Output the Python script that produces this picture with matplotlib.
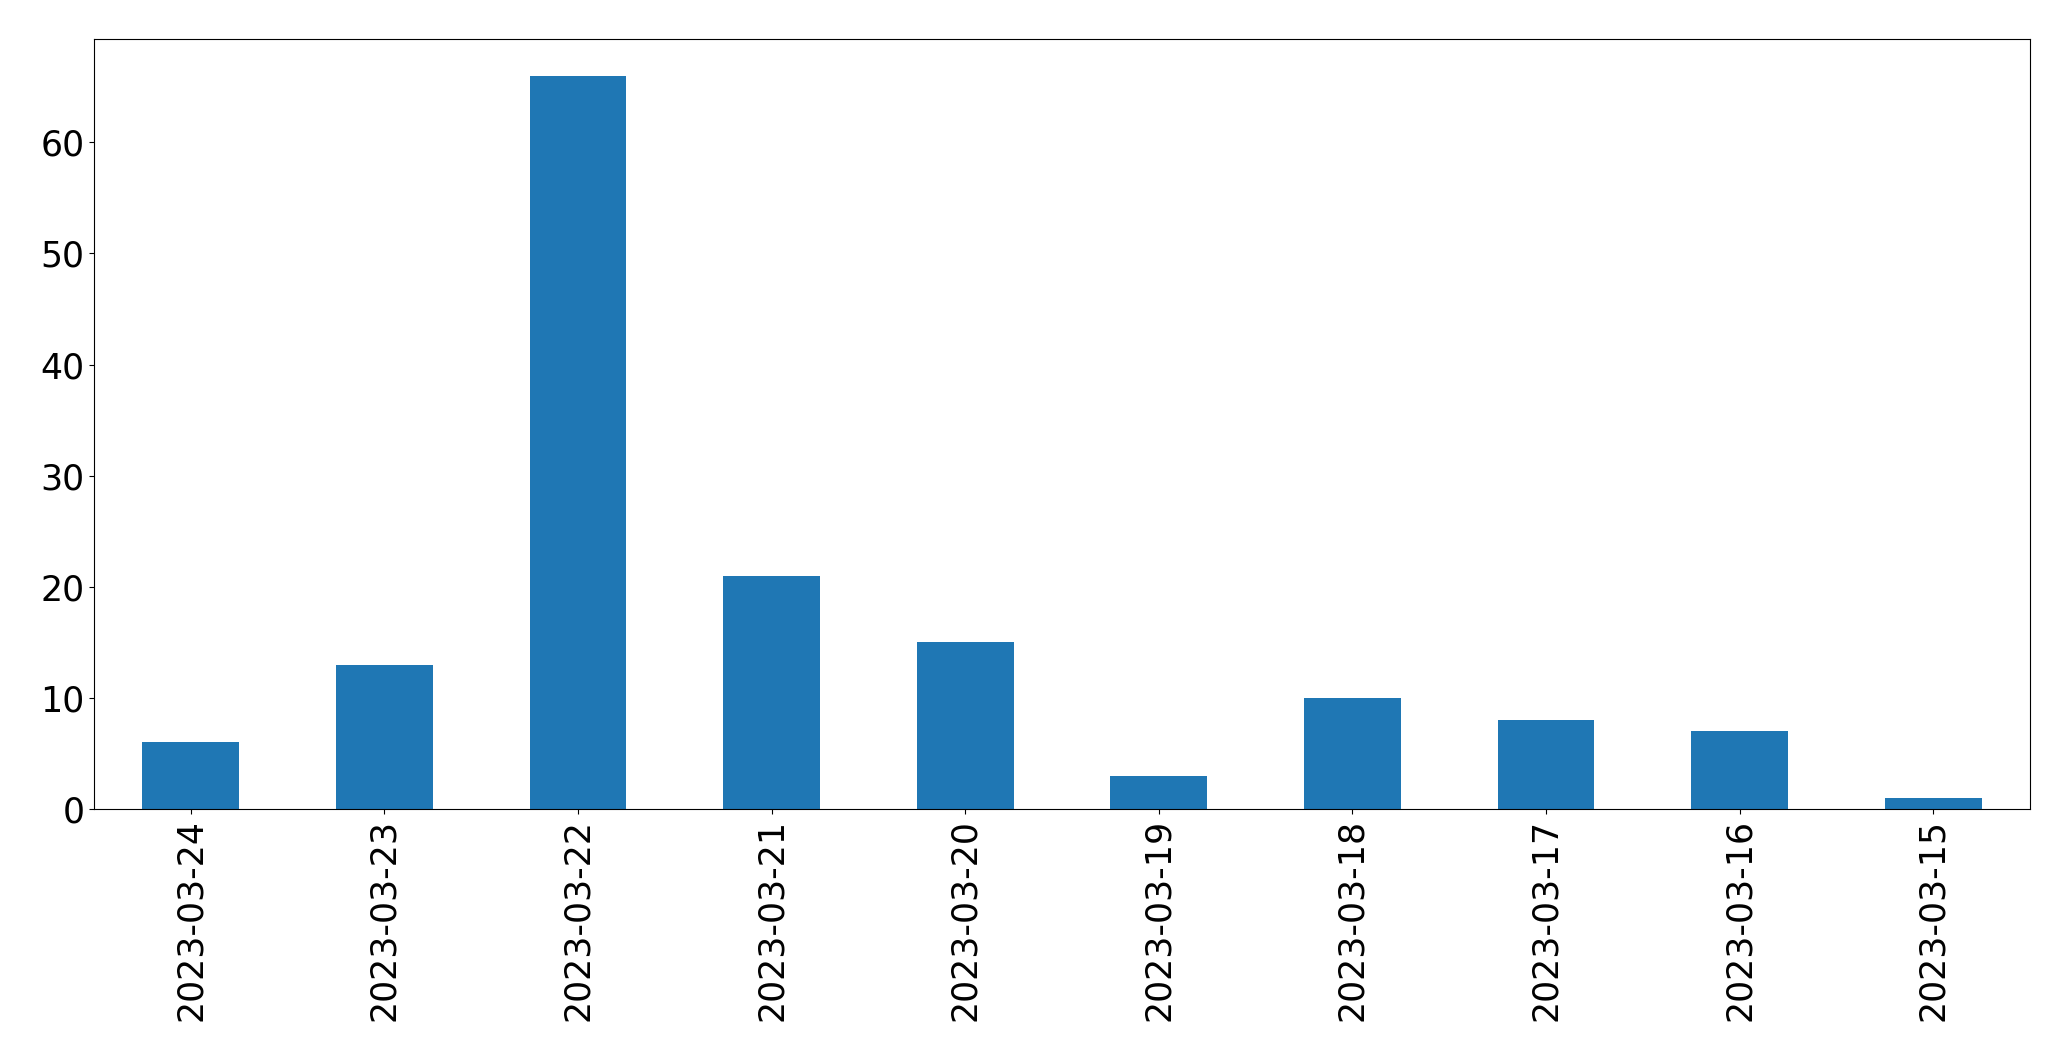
import matplotlib
matplotlib.use("Agg")
import matplotlib.pyplot as plt

dates = ["2023-03-24", "2023-03-23", "2023-03-22", "2023-03-21", "2023-03-20",
         "2023-03-19", "2023-03-18", "2023-03-17", "2023-03-16", "2023-03-15"]
counts = [6, 13, 66, 21, 15, 3, 10, 8, 7, 1]

fig = plt.figure(figsize=(20.71, 10.61), dpi=100)
ax = fig.add_axes([94/2071, 1 - 809/1061, (2030-94)/2071, (809-39)/1061])
x = list(range(len(dates)))
ax.bar(x, counts, width=0.5, color="#1f77b4")
ax.set_xlim(-0.5, len(dates) - 0.5)
ax.set_ylim(0, 66 * 1.05)
ax.set_xticks(x)
ax.set_xticklabels(dates, rotation=90)
ax.tick_params(axis="both", labelsize=25)
fig.savefig("out.png", dpi=100)
